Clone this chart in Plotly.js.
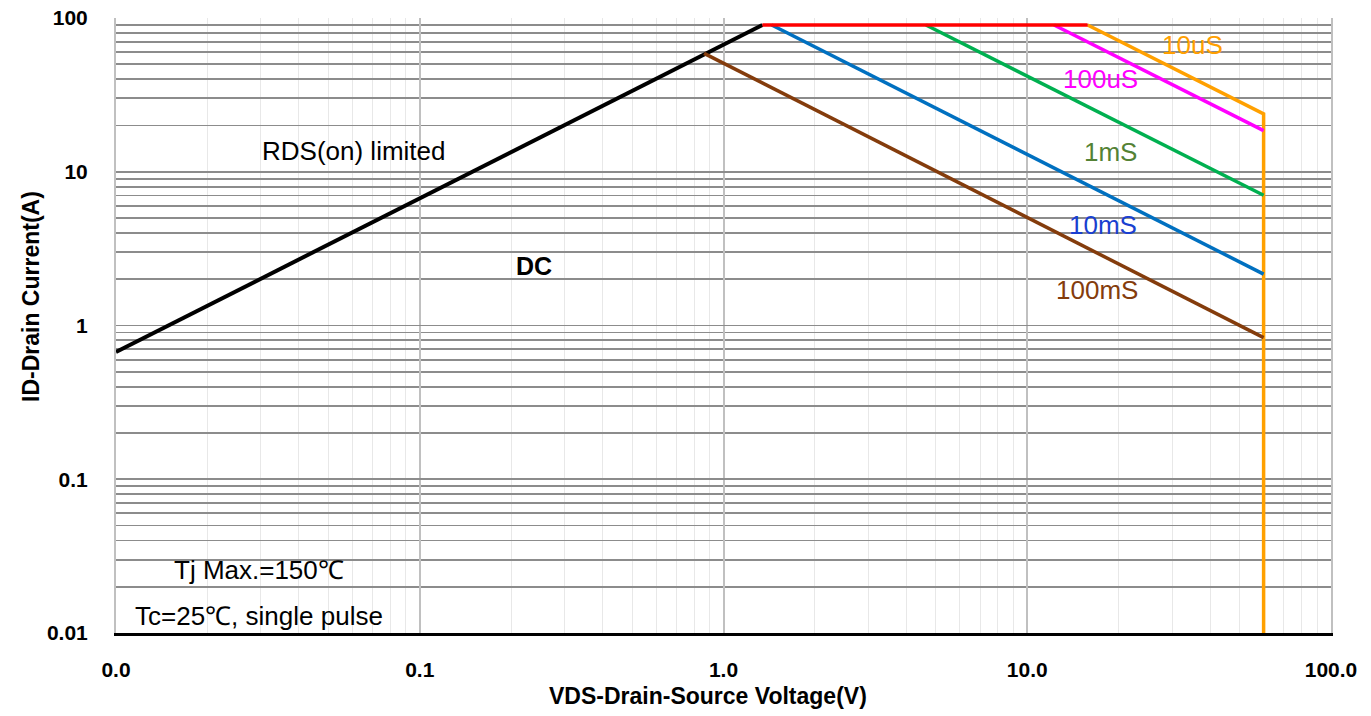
<!DOCTYPE html>
<html>
<head>
<meta charset="utf-8">
<script src="https://cdn.plot.ly/plotly-3.0.1.min.js"></script>
<style>
  html, body { margin: 0; padding: 0; background: #ffffff; }
  #chart { width: 1371px; height: 716px; }
</style>
</head>
<body>
<div id="chart"></div>
<script>
// ---- Data ----
// RDS(on) limited line
const rdsVoltage = [0.01, 1.343];
const rdsCurrent = [0.673, 90];
// Current limit (red)
const limitVoltage = [1.343, 15.8];
const limitCurrent = [90, 90];
// 10uS pulse (orange, incl. BVDSS drop)
const us10Voltage = [15.8, 60, 60];
const us10Current = [90, 23.8, 0.01];
// 100uS pulse
const us100Voltage = [12.25, 60];
const us100Current = [90, 18.5];
// 1mS pulse
const ms1Voltage = [4.64, 60];
const ms1Current = [90, 7.03];
// 10mS pulse
const ms10Voltage = [1.441, 60];
const ms10Current = [90, 2.16];
// 100mS pulse
const ms100Voltage = [0.863, 60];
const ms100Current = [58.9, 0.834];

// Tick labels
const xTickVals = [0.01, 0.1, 1, 10, 100];
const xTickText = ['0.0', '0.1', '1.0', '10.0', '100.0'];
const yTickVals = [0.01, 0.1, 1, 10, 100];
const yTickText = ['0.01', '0.1', '1', '10', '100'];

// ---- Styling ----
const textFont = 'Arial, "Liberation Sans", sans-serif';
const tickFont = '"Liberation Sans Narrow", "Arial Narrow", Arial, "Liberation Sans", sans-serif';

function line(x, y, color, width, name) {
  return { x: x, y: y, type: 'scatter', mode: 'lines', name: name,
           line: { color: color, width: width }, hoverinfo: 'skip', showlegend: false };
}

const traces = [
  line(us10Voltage, us10Current, '#ffa000', 3.5, '10uS'),
  line(rdsVoltage, rdsCurrent, '#000000', 4, 'RDS(on) limited'),
  line(ms100Voltage, ms100Current, '#843c0c', 3.5, '100mS'),
  line(ms10Voltage, ms10Current, '#0070c0', 3.5, '10mS'),
  line(ms1Voltage, ms1Current, '#00b050', 3.5, '1mS'),
  line(us100Voltage, us100Current, '#ff00ff', 3.5, '100uS'),
  line(limitVoltage, limitCurrent, '#ff0000', 3.5, 'limit')
];

const annFont = (color, size, bold) => ({ family: textFont, size: size, color: color, weight: bold ? 'bold' : 'normal' });

const annotations = [
  { text: 'RDS(on) limited', x: -1.218, y: 1.135, font: annFont('#000000', 26) },
  { text: '<b>DC</b>', x: -0.6245, y: 0.384, font: annFont('#000000', 25, true) },
  { text: '1mS', x: 1.275, y: 1.130, font: annFont('#548235', 26) },
  { text: '10mS', x: 1.250, y: 0.651, font: annFont('#1a3fd0', 26) },
  { text: '100mS', x: 1.231, y: 0.230, font: annFont('#843c0c', 26) },
  { text: '100uS', x: 1.242, y: 1.605, font: annFont('#ff00ff', 26) },
  { text: '10uS', x: 1.543, y: 1.827, font: annFont('#ff9f00', 26) },
  { text: 'Tj Max.=150℃', x: -1.529, y: -1.590, font: annFont('#000000', 26) },
  { text: 'Tc=25℃, single pulse', x: -1.530, y: -1.889, font: annFont('#000000', 26) }
].map(a => Object.assign({ xref: 'x', yref: 'y', showarrow: false, xanchor: 'center', yanchor: 'middle' }, a));

// Axis titles drawn as annotations so they can be offset like the reference
annotations.push({
  text: '<b>VDS-Drain-Source Voltage(V)</b>', xref: 'paper', yref: 'paper',
  x: (708 - 116) / 1215, y: -(696 - 633) / 615, showarrow: false,
  xanchor: 'center', yanchor: 'middle', font: { family: textFont, size: 23, color: '#000000' }
});
annotations.push({
  text: '<b>ID-Drain Current(A)</b>', xref: 'paper', yref: 'paper',
  x: -(116 - 31) / 1215, y: (633 - 297) / 615, showarrow: false, textangle: -90,
  xanchor: 'center', yanchor: 'middle', font: { family: textFont, size: 23, color: '#000000' }
});

const layout = {
  width: 1371, height: 716,
  margin: { l: 116, r: 40, t: 18, b: 83, pad: 0 },
  paper_bgcolor: '#ffffff', plot_bgcolor: '#ffffff',
  showlegend: false,
  xaxis: {
    type: 'log', range: [-2, 2],
    tickvals: xTickVals, ticktext: xTickText,
    ticks: '', ticklabelstandoff: 16,
    tickfont: { family: tickFont, size: 21, color: '#000000', weight: 'bold' },
    showgrid: true, gridcolor: '#c0c0c0', gridwidth: 2,
    minor: { dtick: 'D1', showgrid: true, gridcolor: '#e8e8e8', gridwidth: 1, ticks: '' },
    showline: true, linecolor: '#000000', linewidth: 2.5,
    zeroline: false, fixedrange: true
  },
  yaxis: {
    type: 'log', range: [-2, 2],
    tickvals: yTickVals, ticktext: yTickText,
    ticks: '', ticklabelstandoff: 22,
    tickfont: { family: tickFont, size: 21, color: '#000000', weight: 'bold' },
    showgrid: true, gridcolor: '#8c8c8c', gridwidth: 1.8,
    minor: { dtick: 'D1', showgrid: true, gridcolor: '#8c8c8c', gridwidth: 1.8, ticks: '' },
    showline: true, mirror: true, linecolor: '#c0c0c0', linewidth: 2,
    zeroline: false, fixedrange: true
  },
  annotations: annotations
};

Plotly.newPlot('chart', traces, layout, { displayModeBar: false, staticPlot: true });
</script>
</body>
</html>
